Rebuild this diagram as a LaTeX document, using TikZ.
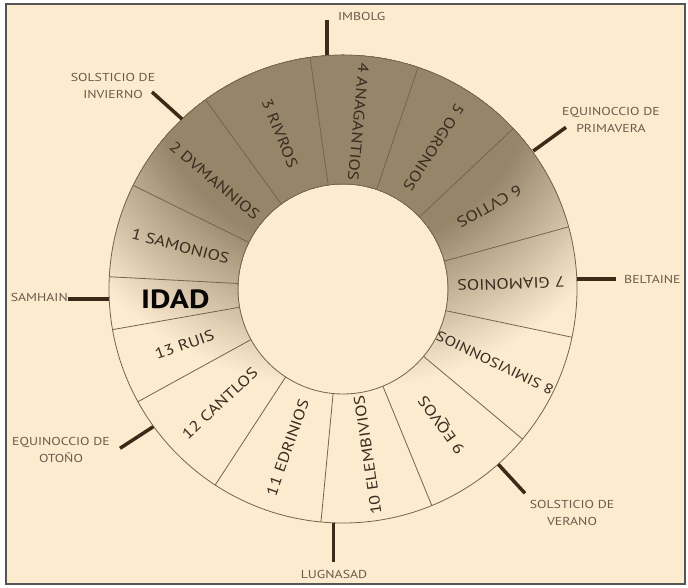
\documentclass[tikz,border=0pt]{standalone}
\usepackage{fontspec}
\setmainfont[FakeStretch=1.2]{PT Sans}
\definecolor{cream}{HTML}{FDEBD0}
\definecolor{ringdark}{HTML}{978569}
\definecolor{ringline}{HTML}{75634B}
\definecolor{tickcol}{HTML}{3B2A18}
\definecolor{labelcol}{HTML}{6A5A4A}
\definecolor{monthcol}{HTML}{3A2C20}
\definecolor{framecol}{HTML}{555555}
\tikzset{
  ringedge/.style={draw=ringline, line width=0.8pt},
  tickline/.style={draw=tickcol, line width=3.5pt},
  feast/.style={text=labelcol, font=\fontsize{11.5}{17}\selectfont, align=center, inner sep=0pt},
  month/.style={text=monthcol, font=\fontsize{15}{18}\selectfont, inner sep=0pt},
}
\begin{document}
\begin{tikzpicture}[x=1pt,y=1pt]
\useasboundingbox (-343,-299) rectangle (345,289);
\fill[white] (-343,-299) rectangle (345,289);
\draw[framecol, line width=1.5pt, fill=cream] (-337,285) rectangle (342,-295);
% shaded ring: concentric bands centred near the top of the ring
\begin{scope}[even odd rule]
  \clip (0,0) circle (234) (0,0) circle (105);
  \foreach \i in {0,...,50}{
    \pgfmathsetmacro{\rr}{334-\i*2.74}
    \pgfmathsetmacro{\pc}{\i*2}
    \fill[ringdark!\pc!cream] (0,232) circle (\rr);
  }
\end{scope}
\draw[ringedge] (0,0) circle (234);
\draw[ringedge] (0,0) circle (105);
\foreach \a in {177,153.7,126,98.1,71.3,43.3,15.4,-11.9,-39.9,-67.7,-95.4,-123.1,-151.2,-170}
  \draw[ringedge] (\a:105) -- (\a:234);
% month labels
\node[month, font=\bfseries\fontsize{26.4}{30}\selectfont, text=black!85!monthcol] (idad) at (183.5:168) {IDAD};
\node[month, rotate=-14.7] (m1) at (165.35:168) {1 SAMONIOS};
\node[month, rotate=-40.1] (m2) at (139.85:168) {2 DVMANNIOS};
\node[month, rotate=-68]   (m3) at (112.05:168) {3 RIVROS};
\node[month, rotate=-95.3] (m4) at (84.7:168) {4 ANAGANTIOS};
\node[month, rotate=-122.7] (m5) at (57.3:168) {5 OGRONIOS};
\node[month, rotate=-150.65] (m6) at (29.35:168) {6 CVTIOS};
\node[month, rotate=-178.25] (m7) at (1.75:168) {7 GIAMONIOS};
\node[month, font=\fontsize{14}{17}\selectfont, rotate=154.1] (m8) at (-25.9:169) {8 SIMIVISONNIOS};
\node[month, rotate=126.2] (m9) at (-53.8:168) {9 EQVOS};
\node[month, rotate=98.45] (m10) at (-81.55:168) {10 ELEMBIVIOS};
\node[month, rotate=70.75] (m11) at (-109.25:168) {11 EDRINIOS};
\node[month, rotate=42.85] (m12) at (-137.15:168) {12 CANTLOS};
\node[month, rotate=19.4] (m13) at (-160.6:168) {13 RUIS};
% tick coordinates
\coordinate (imb1) at (-16,233.5);  \coordinate (imb2) at (-16,269);
\coordinate (sam1) at (-234,-10);   \coordinate (sam2) at (-275,-10);
\coordinate (bel1) at (234,10);     \coordinate (bel2) at (273,10);
\coordinate (lug1) at (-9.5,-234);  \coordinate (lug2) at (-9.5,-273);
\coordinate (sin1) at (-161,170);   \coordinate (sin2) at (-191,197);
\coordinate (epr1) at (190.3,138);  \coordinate (epr2) at (223,161.7);
\coordinate (sve1) at (155.3,-175.3); \coordinate (sve2) at (182,-204.3);
\coordinate (eot1) at (-189.7,-137.7); \coordinate (eot2) at (-223,-159.3);
\foreach \t in {imb,sam,bel,lug,sin,epr,sve,eot}
  \draw[tickline] (\t1) -- (\t2);
% feast labels
\node[feast, anchor=west] (imbolg) at (-5,273) {IMBOLG};
\node[feast] (sinv) at (-230,203) {SOLSTICIO DE\\INVIERNO};
\node[feast] (eprim) at (268,169) {EQUINOCCIO DE\\PRIMAVERA};
\node[feast, anchor=west] (beltaine) at (281,10) {BELTAINE};
\node[feast, anchor=east] (samhain) at (-275,-8) {SAMHAIN};
\node[feast] (sver) at (229,-224) {SOLSTICIO DE\\VERANO};
\node[feast] (lugnasad) at (-9,-285) {LUGNASAD};
\node[feast] (eoto) at (-282,-161) {EQUINOCCIO DE\\OTOÑO};
\end{tikzpicture}
\end{document}
